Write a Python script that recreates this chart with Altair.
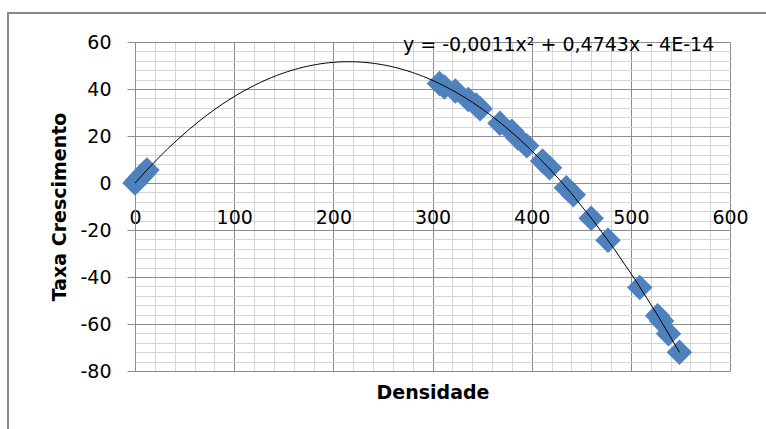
import altair as alt
import pandas as pd

# Data
densidade = [0, 3, 6, 9, 12, 307, 312, 323, 336, 344, 348, 368, 380, 386, 395,
             411, 418, 435, 442, 460, 477, 509, 527, 531, 538, 549]
taxa = [0, 1.4, 2.8, 4.2, 5.5, 42.3, 40.9, 39.1, 35.5, 33.2, 31.6, 25.4, 22.0,
        19.2, 15.8, 9.4, 6.5, -2.0, -5.0, -15.0, -24.4, -44.5, -56.5, -58.7,
        -64.2, -72.0]
x_ticks = list(range(0, 601, 20))
y_ticks = list(range(-80, 61, 4))
equation = ["y = -0,0011x² + 0,4743x - 4E-14"]

FONT = "DejaVu Sans"
W, H = 595, 329

df = pd.DataFrame({"Densidade": densidade, "Taxa": taxa})

xscale = alt.Scale(domain=[0, 600], nice=False, zero=False)
yscale = alt.Scale(domain=[-80, 60], nice=False, zero=False)

major = "#8c8c8c"
minor = "#d4d4d4"

x_axis = alt.Axis(
    values=x_ticks,
    tickCount=500,
    grid=True,
    gridColor={"condition": {"test": "datum.value % 100 === 0", "value": major}, "value": minor},
    gridWidth=1,
    ticks=False,
    tickSize=0,
    domain=True,
    domainColor=major,
    offset=-188,
    labelExpr="datum.value % 100 === 0 ? '' + datum.value : ''",
    labelFlush=False,
    labelOverlap=False,
    labelBound=False,
    labelPadding=25,
    labelFont=FONT,
    labelFontSize=19,
    labelColor="#000000",
    labelBaseline="top",
    title="Densidade",
    titleFont=FONT,
    titleFontSize=19,
    titleFontWeight="bold",
    titleColor="#000000",
    titleBaseline="alphabetic",
    titleY=215,
)

y_axis = alt.Axis(
    values=y_ticks,
    tickCount=500,
    grid=True,
    gridColor={"condition": {"test": "datum.value % 20 === 0", "value": major}, "value": minor},
    gridWidth=1,
    ticks=True,
    tickSize=8,
    tickColor=major,
    tickOpacity={"condition": {"test": "datum.value % 20 === 0", "value": 1}, "value": 0},
    domain=True,
    domainColor=major,
    labelExpr="datum.value % 20 === 0 ? '' + datum.value : ''",
    labelOverlap=False,
    labelBound=False,
    labelPadding=16,
    labelFont=FONT,
    labelFontSize=19,
    labelColor="#000000",
    title="Taxa Crescimento",
    titleFont=FONT,
    titleFontSize=19,
    titleFontWeight="bold",
    titleColor="#000000",
    titlePadding=10,
)

frame = alt.Chart(pd.DataFrame({"k": [0]})).mark_rect(
    filled=False, stroke="#8a8a8a", strokeWidth=2
).encode(
    x=alt.value(-127), x2=alt.value(W + 100),
    y=alt.value(-29), y2=alt.value(H + 150),
)

points = alt.Chart(df).mark_point(
    shape="diamond", filled=True, size=650, color="#4F81BD", opacity=1
).encode(
    x=alt.X("Densidade:Q", scale=xscale, axis=x_axis),
    y=alt.Y("Taxa:Q", scale=yscale, axis=y_axis),
)

trend = alt.Chart(df).transform_regression(
    "Densidade", "Taxa", method="poly", order=2
).mark_line(color="#000000", strokeWidth=1).encode(
    x=alt.X("Densidade:Q", scale=xscale),
    y=alt.Y("Taxa:Q", scale=yscale),
)

eq = alt.Chart(pd.DataFrame({"t": equation})).mark_text(
    font=FONT, fontSize=19, color="#000000", align="left", baseline="middle"
).encode(
    text="t:N",
    x=alt.value(268),
    y=alt.value(3),
)

chart = alt.layer(points, trend, eq, frame).properties(
    width=W,
    height=H,
    autosize=alt.AutoSizeParams(type="none"),
    padding={"left": 135, "top": 42, "right": 36, "bottom": 58},
    background="white",
).configure_view(stroke=None)

chart.save("out.html", embed_options={"renderer": "svg", "actions": False})
